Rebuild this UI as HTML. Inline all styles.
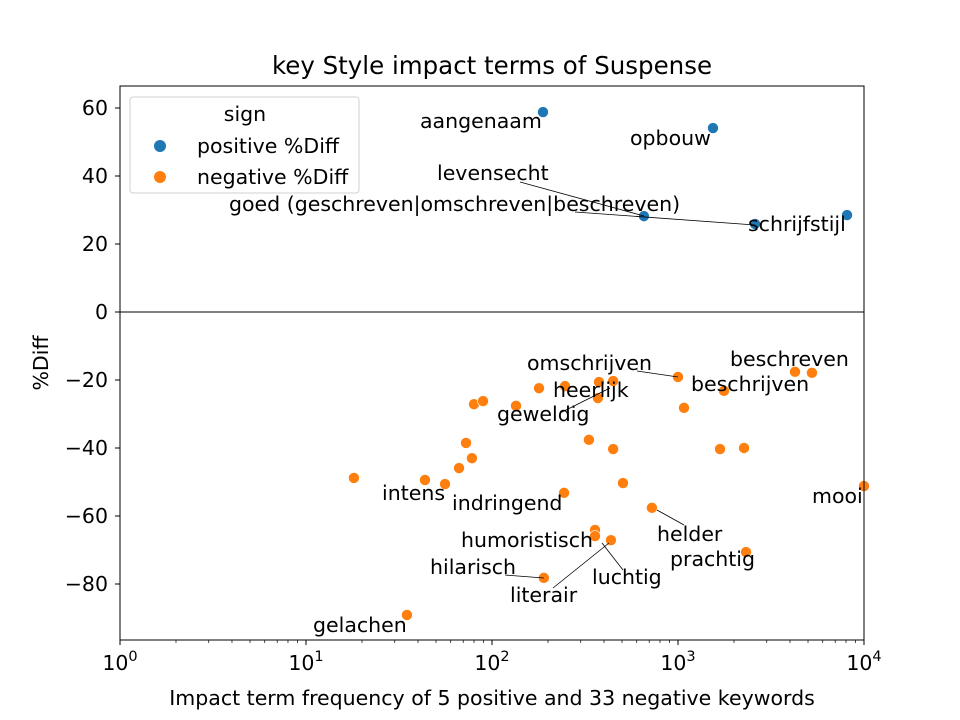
<!DOCTYPE html>
<html><head><meta charset="utf-8"><style>body{margin:0;background:#fff}svg{display:block;font-family:"DejaVu Sans","Liberation Sans",sans-serif}</style></head>
<body>
<svg id="chart" width="960" height="720" xmlns="http://www.w3.org/2000/svg">
<rect width="960" height="720" fill="#fff"/>
<text x="492" y="74" font-size="24.5" text-anchor="middle">key Style impact terms of Suspense</text>
<g id="plot"></g>
<g id="labels" font-size="20.5" dominant-baseline="central"></g>
<rect x="120" y="86" width="744" height="554" fill="none" stroke="#000" stroke-width="1"/>
<text x="492" y="705" font-size="20.5" text-anchor="middle">Impact term frequency of 5 positive and 33 negative keywords</text>
<text transform="translate(48,363) rotate(-90)" font-size="20.5" text-anchor="middle">%Diff</text>
<g>
<rect x="130" y="97" width="229" height="96" rx="3" fill="#fff" stroke="#ccc" opacity="0.9"/>
<text x="245" y="121" font-size="20.5" text-anchor="middle">sign</text>
<circle cx="160" cy="146" r="6" fill="#1f77b4"/><text x="197" y="153" font-size="20.5">positive %Diff</text>
<circle cx="160" cy="177" r="6" fill="#ff7f0e"/><text x="197" y="184" font-size="20.5">negative %Diff</text>
</g>
</svg>
<script>
const posX=[188,1542,656,2594,8106];
const posY=[58.8,54.1,28.2,25.9,28.5];
const negX=[18.1,43.6,55.9,66.5,78,72.5,80,89.5,134.6,179,247,376,448,371,332,448,244,506,724,358,358,436,190,1000,1077,1767,1682,2264,2321,4257,5250,10000,34.9];
const negY=[-48.8,-49.4,-50.6,-45.9,-43,-38.5,-27.1,-26.2,-27.6,-22.4,-21.8,-20.6,-20.3,-25.3,-37.6,-40.3,-53.2,-50.3,-57.6,-64.1,-65.9,-67.1,-78.2,-19.1,-28.2,-23.2,-40.3,-40,-70.6,-17.6,-17.9,-51.2,-89.1];
const xTicks=[1,10,100,1000,10000];
const xTickLabels=["10^0","10^1","10^2","10^3","10^4"];
const yTicks=[60,40,20,0,-20,-40,-60,-80];
const labels=[["aangenaam",420,121],["opbouw",630,138],["levensecht",437,173],["goed (geschreven|omschreven|beschreven)",229,204],["schrijfstijl",748,224],["omschrijven",527,363],["beschreven",730,359],["beschrijven",691,384],["heerlijk",553,390],["geweldig",497,414],["intens",382,493],["indringend",452,503],["mooi",812,496],["helder",657,534],["humoristisch",461,540],["prachtig",670,559],["hilarisch",430,567],["luchtig",592,577],["literair",510,595],["gelachen",313,625]];
const leaders=[[520,182,644,216],[575,212,755,225],[637,371,678,377],[560,413,610,388],[684,525,657,510],[505,575,544,578],[553,588,609,543],[623,570,602,543]];
const NS="http://www.w3.org/2000/svg";
const X=v=>120+186*Math.log10(v);
const Y=v=>312-3.4*v;
const plot=document.getElementById('plot'),lab=document.getElementById('labels');
function mk(tag,at,parent){const e=document.createElementNS(NS,tag);for(const k in at)e.setAttribute(k,at[k]);parent.appendChild(e);return e;}
xTicks.forEach((t,i)=>{const x=X(t);
 const l=mk('line',{x1:x,x2:x,y1:640,y2:645,stroke:'#000'},plot);
 
 
 const tx=mk('text',{x:x,y:670,'font-size':20.5,'text-anchor':'middle'},plot);
 
 
 tx.textContent='10';const s=mk('tspan',{dy:-9,'font-size':14.5},tx);s.textContent=String(i);
 if(i<4)for(let m=2;m<10;m++){const xm=X(t*m);mk('line',{x1:xm,x2:xm,y1:640,y2:643,stroke:'#000','stroke-width':0.7},plot);}
});
yTicks.forEach(t=>{const y=Y(t);
 const l=mk('line',{x1:115,x2:120,y1:y,y2:y,stroke:'#000'},plot);
 
 
 const tx=mk('text',{x:108,y:y+7,'font-size':20.5,'text-anchor':'end'},plot);
 
 
 tx.textContent=(t<0?'\u2212':'')+Math.abs(t);
});
const zl=mk('line',{x1:120,x2:864,y1:Y(0),y2:Y(0),stroke:'#808080','stroke-width':2},plot);


posX.forEach((v,i)=>{const c=mk('circle',{cx:X(v),cy:Y(posY[i]),r:5.5,fill:'#1f77b4',stroke:'#fff','stroke-width':0.6},plot);
 
 });
negX.forEach((v,i)=>{const c=mk('circle',{cx:Math.min(X(v),864),cy:Y(negY[i]),r:5.5,fill:'#ff7f0e',stroke:'#fff','stroke-width':0.6},plot);
 
 });
leaders.forEach(a=>{const l=mk('line',{x1:a[0],y1:a[1],x2:a[2],y2:a[3],stroke:'#000','stroke-width':0.8},lab);
 
 });
labels.forEach(a=>{const t=mk('text',{x:a[1],y:a[2]},lab);
 
 
 t.textContent=a[0];});
</script>
</body></html>
